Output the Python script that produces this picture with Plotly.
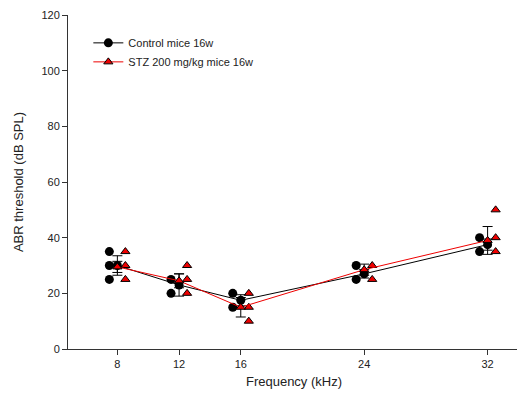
import plotly.graph_objects as go

freqs = [8, 12, 16, 24, 32]
freq_labels = ["8", "12", "16", "24", "32"]

# individual animals (visible distinct points)
ctrl_pts = [[35, 30, 25], [25, 20], [20, 15], [30, 25], [40, 35]]
stz_pts = [[35, 30, 25], [30, 25, 20], [20, 15, 10], [30, 25], [50, 40, 35]]

ctrl_mean = [30, 23, 17.5, 27, 37.5]
ctrl_err = [3.5, 4, 2, 1.5, 2]
stz_mean = [29.5, 24.5, 15, 28.5, 39]
stz_err = [2, 2.5, 3.5, 2, 5]

y_ticks = [0, 20, 40, 60, 80, 100, 120]

OFF = 0.52

fig = go.Figure()

cx, cy, sx, sy = [], [], [], []
for f, pts in zip(freqs, ctrl_pts):
    for v in pts:
        cx.append(f - OFF); cy.append(v)
for f, pts in zip(freqs, stz_pts):
    for v in pts:
        sx.append(f + OFF); sy.append(v)

fig.add_trace(go.Scatter(x=cx, y=cy, mode="markers", showlegend=False,
                         marker=dict(symbol="circle", size=9, color="black")))
fig.add_trace(go.Scatter(x=sx, y=sy, mode="markers", showlegend=False,
                         marker=dict(symbol="triangle-up", size=8, color="#ee0000",
                                     line=dict(color="black", width=1))))

fig.add_trace(go.Scatter(x=freqs, y=ctrl_mean, mode="lines+markers", name="Control mice 16w",
                         line=dict(color="black", width=1),
                         marker=dict(symbol="circle", size=9, color="black"),
                         error_y=dict(type="data", array=ctrl_err, color="black", thickness=1, width=5)))
fig.add_trace(go.Scatter(x=freqs, y=stz_mean, mode="lines+markers", name="STZ 200 mg/kg mice 16w",
                         line=dict(color="#ee0000", width=1),
                         marker=dict(symbol="triangle-up", size=8, color="#ee0000",
                                     line=dict(color="black", width=1)),
                         error_y=dict(type="data", array=stz_err, color="black", thickness=1, width=5)))

fig.update_layout(
    width=525, height=405,
    margin=dict(l=60, r=13, t=7, b=64, autoexpand=False),
    plot_bgcolor="white", paper_bgcolor="white",
    font=dict(family="Liberation Sans, Arial, sans-serif", size=11, color="#222"),
    showlegend=True,
    legend=dict(x=0.045, y=0.96, xanchor="left", yanchor="top",
                bgcolor="rgba(0,0,0,0)", font=dict(size=11, color="#222"),
                tracegroupgap=0, itemwidth=30),
    xaxis=dict(range=[4.8, 34.1], tickvals=freqs, ticktext=freq_labels, automargin=False,
               showgrid=False, zeroline=False, showline=True, linecolor="#333", linewidth=1,
               ticks="outside", ticklen=5, tickcolor="#333",
               title=dict(text="Frequency (kHz)", font=dict(size=13), standoff=7)),
    yaxis=dict(range=[0, 120], tickvals=y_ticks, automargin=False,
               showgrid=False, zeroline=False, showline=True, linecolor="#333", linewidth=1,
               ticks="outside", ticklen=5, tickcolor="#333",
               title=dict(text="ABR threshold (dB SPL)", font=dict(size=13), standoff=14)),
)

fig.write_html("out.html")
